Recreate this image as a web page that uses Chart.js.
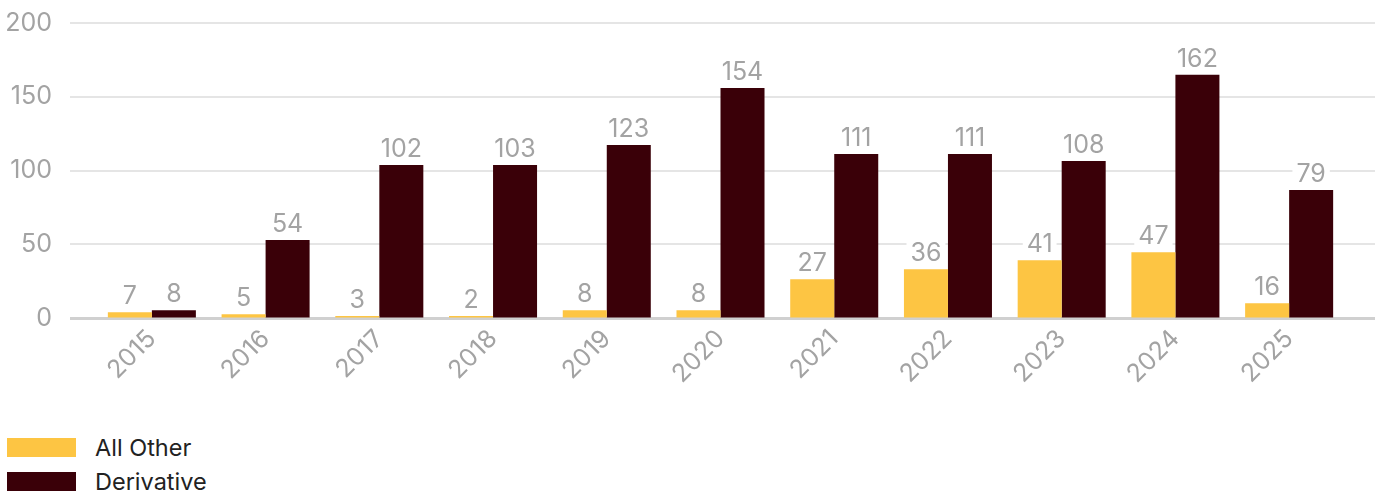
<!DOCTYPE html>
<html lang="en">
<head>
  <meta charset="UTF-8">
  <title>All Other vs Derivative</title>
  <script src="https://cdn.jsdelivr.net/npm/chart.js"></script>
  <style>
    html, body { margin: 0; padding: 0; background: #fff; }
    body { width: 1375px; height: 493px; position: relative; overflow: hidden; font-family: 'Inter', sans-serif; }
    .wrap { position: absolute; left: 0; top: 0; width: 1375px; height: 400px; }
    .legend { position: absolute; left: 7px; top: 430px; }
    .legend .item { display: flex; align-items: center; height: 34px; font-size: 23.5px; color: #222; }
    .legend .swatch { width: 69px; height: 19px; margin-right: 19px; }
  </style>
</head>
<body>

<div class="wrap"><canvas id="chart"></canvas></div>
<div class="legend" id="legend"></div>

<script>
const years = ["2015","2016","2017","2018","2019","2020","2021","2022","2023","2024","2025"];
// bar heights as drawn in the picture
const allOther   = [3.9, 2.5, 1.4, 1.4, 5.2, 5.2, 26.3, 33.1, 39.2, 44.6, 10];
const derivative = [5.2, 52.8, 103.7, 103.7, 117.3, 156, 111.2, 111.2, 106.5, 164.9, 86.8];
// printed labels above the bars
const allOtherLabels   = ["7","5","3","2","8","8","27","36","41","47","16"];
const derivativeLabels = ["8","54","102","103","123","154","111","111","108","162","79"];
const yTicks = [0, 50, 100, 150, 200];

const seriesNames = ["All Other", "Derivative"];
const seriesColors = ["#FDC543", "#3A0008"];
const textGrey = '#a3a3a3';

// grid lines span the full width, wider than the bar area
const gridPlugin = {
  id: 'wideGrid',
  beforeDatasetsDraw(chart) {
    const { ctx } = chart;
    const y = chart.scales.y;
    ctx.save();
    yTicks.forEach(v => {
      const py = Math.round(y.getPixelForValue(v));
      ctx.beginPath();
      ctx.strokeStyle = v === 0 ? '#d0d0d0' : '#dcdcdc';
      ctx.lineWidth = v === 0 ? 3 : 1.5;
      ctx.moveTo(70, py + (v === 0 ? 0.5 : 0));
      ctx.lineTo(chart.width, py + (v === 0 ? 0.5 : 0));
      ctx.stroke();
    });
    ctx.restore();
  }
};

const labelPlugin = {
  id: 'barLabels',
  afterDatasetsDraw(chart) {
    const { ctx } = chart;
    const texts = [allOtherLabels, derivativeLabels];
    ctx.save();
    ctx.font = '25px Inter, sans-serif';
    ctx.textAlign = 'center';
    ctx.textBaseline = 'alphabetic';
    chart.data.datasets.forEach((ds, di) => {
      chart.getDatasetMeta(di).data.forEach((bar, i) => {
        const t = texts[di][i];
        const w = ctx.measureText(t).width;
        const base = bar.y - 8;
        ctx.fillStyle = '#fff';
        ctx.fillRect(bar.x - w / 2 - 4, base - 20, w + 8, 22);
        ctx.fillStyle = textGrey;
        ctx.fillText(t, bar.x, base);
      });
    });
    ctx.restore();
  }
};

new Chart(document.getElementById('chart'), {
  type: 'bar',
  data: {
    labels: years,
    datasets: [
      { label: seriesNames[0], data: allOther, backgroundColor: seriesColors[0] },
      { label: seriesNames[1], data: derivative, backgroundColor: seriesColors[1] }
    ]
  },
  options: {
    responsive: true,
    maintainAspectRatio: false,
    animation: false,
    layout: { padding: { top: 23, right: 29, left: 0, bottom: 0 } },
    datasets: { bar: { barPercentage: 1, categoryPercentage: 0.774 } },
    plugins: { legend: { display: false }, tooltip: { enabled: false } },
    scales: {
      x: {
        grid: { display: false, drawTicks: false },
        border: { display: false },
        ticks: { color: textGrey, font: { family: 'Inter', size: 25 }, minRotation: 45, maxRotation: 45, padding: 6 },
        afterFit(scale) { scale.height = 82; }
      },
      y: {
        min: 0, max: 200,
        // invisible tick marks push the labels left without adding top padding
        grid: { display: true, drawOnChartArea: false, drawTicks: true, tickLength: 43, color: 'rgba(0,0,0,0)' },
        border: { display: false },
        ticks: { stepSize: 50, color: textGrey, font: { family: 'Inter', size: 25 }, padding: 0 },
        afterFit(scale) { scale.width = 95; }
      }
    }
  },
  plugins: [gridPlugin, labelPlugin]
});

const legend = document.getElementById('legend');
seriesNames.forEach((name, i) => {
  const item = document.createElement('div');
  item.className = 'item';
  item.innerHTML = '<span class="swatch" style="background:' + seriesColors[i] + '"></span>' + name;
  legend.appendChild(item);
});
</script>

</body>
</html>
